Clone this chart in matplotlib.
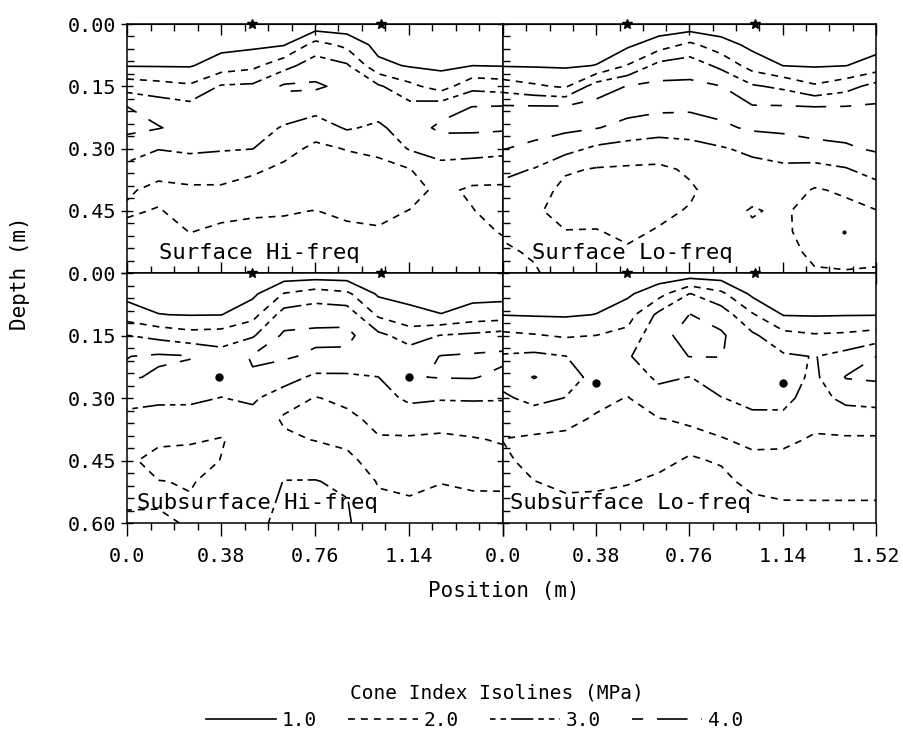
import numpy as np
import matplotlib.pyplot as plt
from matplotlib.lines import Line2D
from matplotlib.ticker import FixedLocator, MultipleLocator

plt.rcParams['font.family'] = ['DejaVu Sans Mono']
plt.rcParams['lines.scale_dashes'] = False

# grid of the cone index readings
position = [0.0, 0.127, 0.254, 0.381, 0.508, 0.635, 0.762, 0.889, 1.016, 1.143, 1.27, 1.397, 1.524]
depth = [0.0, 0.05, 0.10, 0.15, 0.20, 0.25, 0.30, 0.35, 0.40, 0.45, 0.50, 0.55, 0.60]

# cone index (MPa), one list per position column, top to bottom
surface_hi = [
    [0.3, 0.62, 0.94, 2.57, 4.01, 4.22, 3.54, 2.71, 2.12, 1.88, 2.24, 2.60, 2.80],
    [0.3, 0.62, 0.93, 2.36, 3.59, 4.05, 3.04, 2.33, 1.75, 2.06, 2.33, 2.60, 2.80],
    [0.3, 0.61, 0.92, 2.14, 3.32, 3.70, 3.18, 2.45, 1.85, 1.67, 1.98, 2.25, 2.50],
    [0.3, 0.70, 1.46, 3.10, 3.53, 3.47, 3.08, 2.44, 1.85, 1.82, 2.13, 2.31, 2.50],
    [0.3, 0.79, 1.74, 3.18, 3.80, 3.41, 3.02, 2.17, 1.60, 1.92, 2.15, 2.32, 2.50],
    [0.3, 0.94, 2.64, 4.15, 3.55, 2.91, 2.34, 1.80, 1.49, 1.95, 2.15, 2.33, 2.50],
    [0.3, 2.38, 3.54, 4.13, 3.39, 2.46, 1.79, 1.38, 1.63, 2.01, 2.18, 2.34, 2.50],
    [0.3, 1.75, 3.13, 3.77, 3.55, 3.11, 2.05, 1.57, 1.46, 1.87, 2.13, 2.31, 2.50],
    [0.3, 0.67, 1.25, 3.14, 3.46, 2.81, 2.21, 1.73, 1.47, 1.79, 2.08, 2.29, 2.50],
    [0.3, 0.60, 0.91, 2.26, 3.30, 3.53, 3.09, 1.97, 1.70, 2.02, 2.17, 2.33, 2.50],
    [0.3, 0.56, 0.81, 1.54, 3.58, 4.21, 3.41, 2.69, 2.20, 2.30, 2.40, 2.50, 2.60],
    [0.3, 0.64, 0.99, 2.71, 4.02, 4.18, 3.44, 2.50, 1.86, 2.03, 2.19, 2.34, 2.50],
    [0.3, 0.62, 0.94, 2.54, 4.08, 4.13, 3.31, 2.42, 1.85, 1.66, 1.94, 2.18, 2.40],
]
surface_lo = [
    [0.3, 0.62, 0.93, 2.52, 4.12, 4.34, 4.03, 3.29, 2.69, 2.20, 2.06, 1.93, 1.80],
    [0.3, 0.60, 0.91, 2.15, 4.11, 4.29, 3.82, 2.95, 2.48, 2.10, 2.08, 2.05, 1.95],
    [0.3, 0.59, 0.88, 1.86, 4.10, 4.21, 3.37, 2.13, 1.72, 1.77, 2.02, 2.11, 2.20],
    [0.3, 0.65, 1.02, 3.50, 4.32, 4.04, 2.80, 1.93, 1.57, 1.79, 2.03, 2.12, 2.20],
    [0.3, 0.82, 2.05, 4.04, 4.32, 3.72, 2.57, 1.88, 1.54, 1.58, 1.88, 2.08, 2.20],
    [0.3, 1.50, 3.33, 4.24, 4.21, 3.47, 2.45, 1.85, 1.50, 1.86, 2.05, 2.12, 2.20],
    [0.3, 2.22, 3.56, 4.21, 4.18, 3.47, 2.65, 2.11, 1.90, 2.05, 2.13, 2.22, 2.30],
    [0.3, 1.43, 2.75, 4.02, 4.30, 3.83, 2.91, 2.61, 2.32, 2.23, 2.29, 2.34, 2.40],
    [0.3, 0.74, 1.58, 3.12, 4.09, 4.14, 3.23, 2.67, 2.20, 1.95, 2.10, 2.20, 2.30],
    [0.3, 0.64, 0.98, 2.79, 4.09, 4.20, 3.50, 2.79, 2.45, 2.10, 2.13, 2.17, 2.20],
    [0.3, 0.60, 0.91, 2.13, 4.02, 4.27, 3.77, 2.64, 1.92, 1.72, 1.68, 1.89, 2.05],
    [0.3, 0.64, 0.98, 2.60, 4.05, 4.27, 3.90, 2.92, 2.13, 1.77, 1.50, 1.74, 2.05],
    [0.3, 0.68, 1.38, 3.40, 4.12, 4.30, 4.11, 3.48, 2.57, 1.98, 1.87, 1.93, 2.03],
]
subsurface_hi = [
    [0.3, 0.71, 1.50, 3.02, 3.98, 4.13, 3.37, 2.69, 2.27, 2.10, 2.10, 2.03, 1.95],
    [0.3, 0.65, 1.02, 2.71, 4.14, 3.86, 3.19, 2.62, 2.10, 1.82, 2.01, 2.05, 1.90],
    [0.3, 0.63, 0.96, 2.38, 4.05, 3.70, 3.17, 2.64, 2.11, 1.64, 1.98, 2.02, 2.05],
    [0.3, 0.64, 0.98, 2.47, 3.42, 3.43, 2.98, 2.42, 1.95, 2.02, 2.08, 2.14, 2.20],
    [0.3, 0.79, 1.64, 2.89, 4.10, 3.90, 3.14, 2.70, 2.34, 2.35, 2.60, 2.70, 2.80],
    [0.3, 2.06, 3.44, 4.17, 4.12, 3.40, 2.50, 1.86, 2.18, 2.64, 3.02, 3.11, 3.20],
    [0.3, 2.50, 3.60, 4.23, 3.83, 2.81, 1.95, 1.50, 1.96, 2.61, 3.03, 3.12, 3.20],
    [0.3, 2.21, 3.61, 4.26, 3.78, 2.83, 2.24, 1.76, 1.79, 2.23, 2.85, 3.04, 3.10],
    [0.3, 0.86, 1.83, 3.25, 3.56, 2.99, 2.63, 2.27, 1.92, 1.60, 1.92, 2.17, 2.40],
    [0.3, 0.70, 1.27, 2.56, 3.50, 3.95, 3.19, 2.47, 1.89, 1.60, 1.86, 2.06, 2.20],
    [0.3, 0.65, 1.02, 3.04, 4.04, 4.04, 3.08, 2.34, 1.84, 1.67, 1.98, 2.15, 2.30],
    [0.3, 0.70, 1.38, 3.21, 4.13, 4.06, 3.09, 2.47, 1.93, 1.60, 1.90, 2.12, 2.30],
    [0.3, 0.71, 1.50, 3.41, 4.20, 3.75, 3.06, 2.56, 2.08, 1.76, 1.90, 2.11, 2.30],
]
subsurface_lo = [
    [0.3, 0.63, 0.97, 2.23, 3.10, 3.38, 2.83, 2.40, 1.98, 2.20, 2.30, 2.40, 2.50],
    [0.3, 0.61, 0.92, 2.08, 3.22, 4.05, 3.30, 2.45, 1.85, 1.67, 2.01, 2.20, 2.40],
    [0.3, 0.60, 0.89, 1.89, 3.02, 3.40, 2.98, 2.26, 1.80, 1.50, 1.86, 2.11, 2.30],
    [0.3, 0.65, 1.02, 2.01, 2.45, 2.71, 2.27, 1.89, 1.61, 1.65, 1.90, 2.11, 2.30],
    [0.3, 0.84, 1.58, 2.30, 2.90, 2.42, 1.96, 1.68, 1.40, 1.69, 1.97, 2.14, 2.30],
    [0.3, 1.65, 3.25, 3.75, 3.67, 3.19, 2.61, 1.98, 1.66, 1.87, 2.09, 2.25, 2.40],
    [0.3, 3.04, 4.02, 4.30, 4.02, 2.98, 2.55, 2.09, 1.83, 2.06, 2.21, 2.35, 2.50],
    [0.3, 2.25, 3.56, 4.15, 4.02, 3.51, 2.97, 2.43, 1.93, 1.95, 2.14, 2.32, 2.50],
    [0.3, 0.79, 2.11, 3.18, 3.70, 3.66, 3.26, 2.80, 2.23, 1.76, 1.84, 2.11, 2.30],
    [0.3, 0.62, 0.95, 2.32, 3.13, 3.44, 3.24, 2.82, 2.17, 1.78, 1.73, 2.03, 2.20],
    [0.3, 0.61, 0.92, 2.10, 2.97, 2.80, 2.60, 2.23, 1.90, 1.65, 1.79, 2.02, 2.20],
    [0.3, 0.62, 0.95, 2.18, 3.34, 4.05, 3.28, 2.47, 1.89, 1.65, 1.79, 2.02, 2.20],
    [0.3, 0.63, 0.96, 2.41, 4.01, 4.14, 3.45, 2.47, 1.89, 1.65, 1.79, 2.02, 2.20],
]

levels = [1.0, 2.0, 3.0, 4.0]
level_labels = ['1.0', '2.0', '3.0', '4.0']
styles = ['solid', (0, (5, 4.3)), (0, (4, 3.6, 4, 3.6, 16, 3.6)), (0, (8, 10, 22, 10))]

star_x = [0.505, 1.027]
x_major = [0.0, 0.38, 0.76, 1.14, 1.52]
y_major = [0.0, 0.15, 0.30, 0.45, 0.60]

panels = [
    # data, title, [left, bottom, width, height], dots x, dots y
    (surface_hi, 'Surface Hi-freq', [0.1405, 0.634, 0.4159, 0.3338], [], []),
    (surface_lo, 'Surface Lo-freq', [0.5564, 0.634, 0.4126, 0.3338], [1.39], [0.50]),
    (subsurface_hi, 'Subsurface Hi-freq', [0.1405, 0.2989, 0.4159, 0.3351], [0.37, 1.14], [0.25, 0.25]),
    (subsurface_lo, 'Subsurface Lo-freq', [0.5564, 0.2989, 0.4126, 0.3351], [0.38, 1.14], [0.265, 0.265]),
]
label_x = [0.13, 0.12, 0.04, 0.03]

fig = plt.figure(figsize=(9.04, 7.46), dpi=100)

for k, (data, title, rect, dx, dy) in enumerate(panels):
    ax = fig.add_axes(rect)
    z = np.array(data).T
    ax.contour(position, depth, z, levels=levels, colors='black',
               linewidths=1.2, linestyles=styles)
    ax.set_xlim(0, 1.52)
    ax.set_ylim(0.6, 0)

    ax.plot(star_x, [0, 0], linestyle='none', marker='*', color='black',
            markersize=7, clip_on=False, zorder=5)
    if dx:
        ms = 2 if k == 1 else 5
        ax.plot(dx, dy, linestyle='none', marker='o', color='black', markersize=ms)

    ax.text(label_x[k], 0.552, title, fontsize=16, va='center', ha='left')

    for s in ax.spines.values():
        s.set_linewidth(1.1)

    ax.xaxis.set_major_locator(FixedLocator(x_major))
    ax.xaxis.set_minor_locator(MultipleLocator(0.095))
    ax.yaxis.set_major_locator(FixedLocator(y_major))
    ax.yaxis.set_minor_locator(MultipleLocator(0.03))

    upper = k < 2
    left = k % 2 == 0

    if upper:
        ax.tick_params(axis='x', which='major', direction='inout', length=16, width=1, top=False, labelbottom=False)
        ax.tick_params(axis='x', which='minor', direction='inout', length=10, width=1, top=False)
        sec = ax.secondary_xaxis('top')
        sec.xaxis.set_major_locator(FixedLocator(x_major))
        sec.xaxis.set_minor_locator(MultipleLocator(0.095))
        sec.tick_params(which='major', direction='in', length=8, width=1, labeltop=False)
        sec.tick_params(which='minor', direction='in', length=5, width=1)
    else:
        ax.tick_params(axis='x', which='major', direction='out', length=9, width=1, top=False, pad=8, labelsize=14.5)
        ax.tick_params(axis='x', which='minor', direction='out', length=5, width=1, top=False)
        xl = ['0.0', '0.38', '0.76', '1.14', '1.52'] if not left else ['0.0', '0.38', '0.76', '1.14', '']
        ax.set_xticks(x_major, labels=xl)

    ax.tick_params(axis='y', which='major', direction='inout', length=9, width=1, labelsize=14.5, pad=3)
    ax.tick_params(axis='y', which='minor', direction='in', length=5, width=1)
    if left:
        yl = ['0.00', '0.15', '0.30', '0.45', ''] if upper else ['0.00', '0.15', '0.30', '0.45', '0.60']
        ax.set_yticks(y_major, labels=yl)
    else:
        ax.tick_params(axis='y', which='both', labelleft=False)

fig.text(0.022, 0.634, 'Depth (m)', rotation=90, ha='center', va='center', fontsize=15)
fig.text(0.557, 0.208, 'Position (m)', ha='center', va='center', fontsize=15)
fig.text(0.55, 0.071, 'Cone Index Isolines (MPa)', ha='center', va='center', fontsize=14)

handles = [Line2D([], [], color='black', linewidth=1.2, linestyle=s) for s in styles]
fig.legend(handles, level_labels, loc='center', bbox_to_anchor=(0.525, 0.034),
           ncol=4, frameon=False, fontsize=14, handlelength=3.6, handletextpad=0.3,
           columnspacing=1.6, borderpad=0.0)

fig.savefig('out.png', dpi=100)
